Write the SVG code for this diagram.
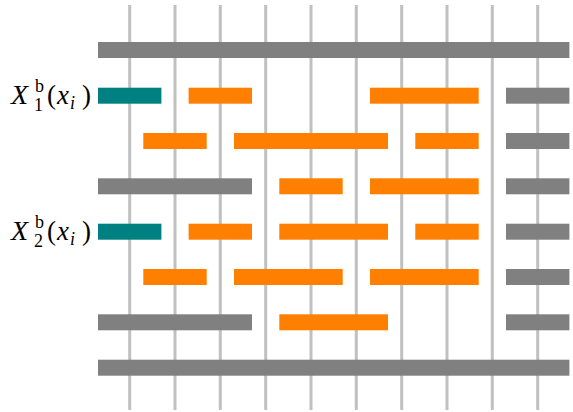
<svg xmlns="http://www.w3.org/2000/svg" width="573" height="412" viewBox="0 0 573 412">
<style>
.v{stroke:#c0c0c0;stroke-width:3;fill:none}
.g{fill:#808080}
.o{fill:#ff8000}
.t{fill:#008080}
text{font-family:'Liberation Serif','Times New Roman','DejaVu Serif',serif;fill:#000}
.it{font-style:italic}
</style>
<rect width="573" height="412" fill="#fff"/>
<g id="grid">
<line class="v" x1="129.7" y1="5" x2="129.7" y2="410"/>
<line class="v" x1="175" y1="5" x2="175" y2="410"/>
<line class="v" x1="220.3" y1="5" x2="220.3" y2="410"/>
<line class="v" x1="265.7" y1="5" x2="265.7" y2="410"/>
<line class="v" x1="311" y1="5" x2="311" y2="410"/>
<line class="v" x1="356.3" y1="5" x2="356.3" y2="410"/>
<line class="v" x1="401.7" y1="5" x2="401.7" y2="410"/>
<line class="v" x1="447" y1="5" x2="447" y2="410"/>
<line class="v" x1="492.3" y1="5" x2="492.3" y2="410"/>
<line class="v" x1="537.7" y1="5" x2="537.7" y2="410"/>
</g>
<g id="row1"><rect class="g" x="98" y="42" width="471.4" height="16"/></g>
<g id="row2">
<rect class="t" x="98" y="87.7" width="63.4" height="16"/>
<rect class="o" x="188.6" y="87.7" width="63.4" height="16"/>
<rect class="o" x="370" y="87.7" width="108.7" height="16"/>
<rect class="g" x="506" y="87.7" width="63.4" height="16"/>
</g>
<g id="row3">
<rect class="o" x="143.3" y="133" width="63.4" height="16"/>
<rect class="o" x="234" y="133" width="154" height="16"/>
<rect class="o" x="415.3" y="133" width="63.4" height="16"/>
<rect class="g" x="506" y="133" width="63.4" height="16"/>
</g>
<g id="row4">
<rect class="g" x="98" y="178.3" width="154" height="16"/>
<rect class="o" x="279.3" y="178.3" width="63.4" height="16"/>
<rect class="o" x="370" y="178.3" width="108.7" height="16"/>
<rect class="g" x="506" y="178.3" width="63.4" height="16"/>
</g>
<g id="row5">
<rect class="t" x="98" y="223.7" width="63.4" height="16"/>
<rect class="o" x="188.6" y="223.7" width="63.4" height="16"/>
<rect class="o" x="279.3" y="223.7" width="108.7" height="16"/>
<rect class="o" x="415.3" y="223.7" width="63.4" height="16"/>
<rect class="g" x="506" y="223.7" width="63.4" height="16"/>
</g>
<g id="row6">
<rect class="o" x="143.3" y="269" width="63.4" height="16"/>
<rect class="o" x="234" y="269" width="108.7" height="16"/>
<rect class="o" x="370" y="269" width="108.7" height="16"/>
<rect class="g" x="506" y="269" width="63.4" height="16"/>
</g>
<g id="row7">
<rect class="g" x="98" y="314.3" width="154" height="16"/>
<rect class="o" x="279.3" y="314.3" width="108.7" height="16"/>
<rect class="g" x="506" y="314.3" width="63.4" height="16"/>
</g>
<g id="row8"><rect class="g" x="98" y="359.7" width="471.4" height="16"/></g>
<g id="label1">
<text x="11" y="104" font-size="28" class="it">X</text>
<text x="35" y="92" font-size="18">b</text>
<text x="34" y="111" font-size="18">1</text>
<text x="47" y="104" font-size="27">(</text>
<text x="57" y="104" font-size="27" class="it">x</text>
<text x="70" y="109" font-size="18" class="it">i</text>
<text x="82" y="104" font-size="27">)</text>
</g>
<g id="label2">
<text x="11" y="240" font-size="28" class="it">X</text>
<text x="35" y="228" font-size="18">b</text>
<text x="34" y="247" font-size="18">2</text>
<text x="47" y="240" font-size="27">(</text>
<text x="57" y="240" font-size="27" class="it">x</text>
<text x="70" y="245" font-size="18" class="it">i</text>
<text x="82" y="240" font-size="27">)</text>
</g>
</svg>
